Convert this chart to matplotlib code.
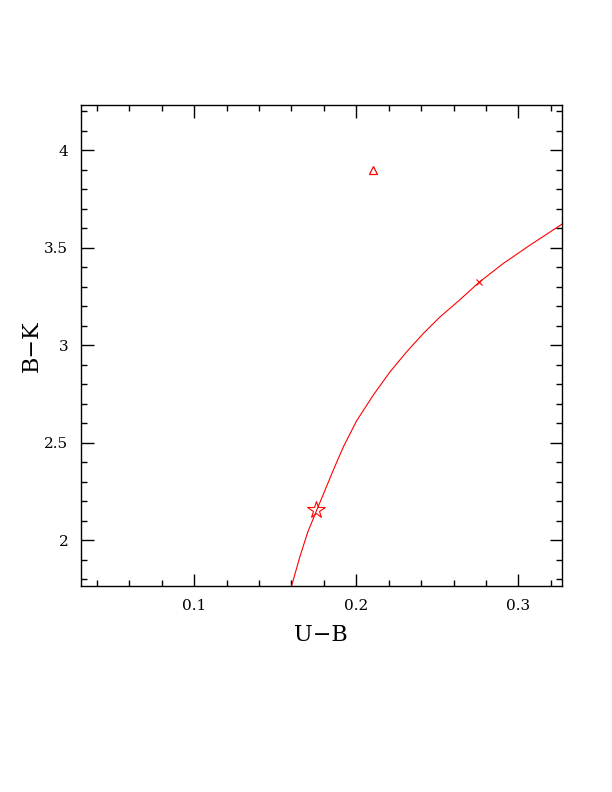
import numpy as np
import matplotlib
matplotlib.use("Agg")
import matplotlib.pyplot as plt
from matplotlib.ticker import MultipleLocator

# track (U-B, B-K)
track_ub = [0.1601, 0.1652, 0.1700, 0.1756, 0.1807, 0.1858, 0.1920, 0.2002,
            0.2105, 0.2208, 0.2311, 0.2414, 0.2517, 0.2630, 0.2760, 0.2907,
            0.3072, 0.3268]
track_bk = [1.766, 1.915, 2.040, 2.154, 2.256, 2.359, 2.478, 2.612,
            2.744, 2.863, 2.966, 3.060, 3.145, 3.226, 3.324, 3.419,
            3.513, 3.620]

star_ub, star_bk = [0.175], [2.154]
cross_ub, cross_bk = [0.276], [3.326]
tri_ub, tri_bk = [0.210], [3.897]

plt.rcParams['font.family'] = ['DejaVu Serif']

fig = plt.figure(figsize=(6.12, 7.92), dpi=100)
ax = fig.add_axes([0.132, 0.260, 0.786, 0.607])

ax.plot(track_ub, track_bk, color='red', lw=0.8)
ax.plot(star_ub, star_bk, marker='*', ms=13, mfc='none', mec='red', mew=0.8, ls='none')
ax.plot(cross_ub, cross_bk, marker='x', ms=4, color='red', mew=0.8, ls='none')
ax.plot(tri_ub, tri_bk, marker='^', ms=6, mfc='none', mec='red', mew=0.9, ls='none')

ax.set_xlim(0.03, 0.3268)
ax.set_ylim(1.764, 4.23)

ax.xaxis.set_major_locator(MultipleLocator(0.1))
ax.xaxis.set_minor_locator(MultipleLocator(0.02))
ax.yaxis.set_major_locator(MultipleLocator(0.5))
ax.yaxis.set_minor_locator(MultipleLocator(0.1))
ax.xaxis.set_major_formatter(plt.FuncFormatter(lambda v, p: f"{v:g}"))
ax.yaxis.set_major_formatter(plt.FuncFormatter(lambda v, p: f"{v:g}"))

ax.tick_params(which='both', direction='in', top=True, right=True, width=1)
ax.tick_params(which='major', length=9, labelsize=11, pad=9)
ax.tick_params(which='minor', length=4.5)
for s in ax.spines.values():
    s.set_linewidth(1)

ax.set_xlabel("U\u2212B", fontsize=16, labelpad=8)
ax.set_ylabel("B\u2212K", fontsize=16, labelpad=1)

fig.savefig("out.png", dpi=100)
